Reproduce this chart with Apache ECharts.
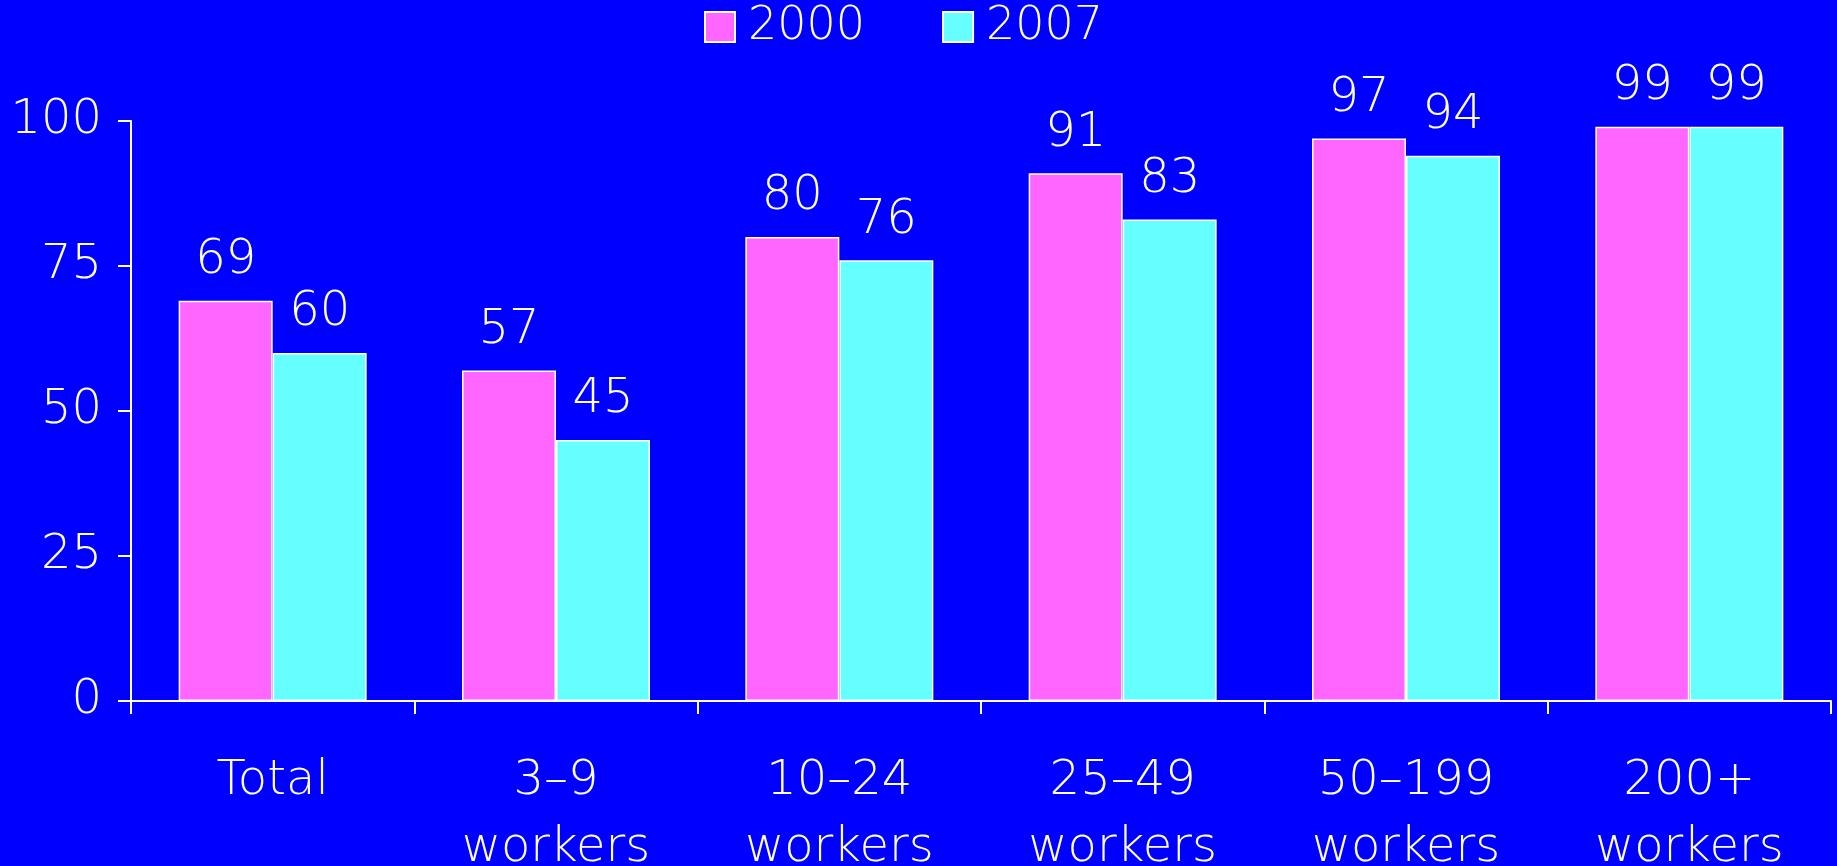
<!DOCTYPE html>
<html>
<head>
<meta charset="utf-8">
<script src="https://cdn.jsdelivr.net/npm/echarts@6/dist/echarts.min.js"></script>
<style>
  html, body { margin: 0; padding: 0; background: #0000ff; }
  #chart { width: 1837px; height: 866px; }
</style>
</head>
<body>
<div id="chart"></div>
<script>
// data
const categories = ["Total", "3\u20139\nworkers", "10\u201324\nworkers", "25\u201349\nworkers", "50\u2013199\nworkers", "200+\nworkers"];
const values2000 = [69, 57, 80, 91, 97, 99];
const values2007 = [60, 45, 76, 83, 94, 99];
const yTicks = [0, 25, 50, 75, 100];

const FONT = "DejaVu Sans";
const FS = 48;
const chart = echarts.init(document.getElementById("chart"));

const labelStyle = {
  show: true,
  position: "top",
  distance: 16,
  color: "#fff",
  fontSize: FS,
  fontFamily: FONT,
  fontWeight: 200,
};

const option = {
  backgroundColor: "#0000ff",
  animation: false,
  legend: {
    data: ["2000", "2007"],
    top: -1,
    left: 699,
    icon: "rect",
    itemWidth: 30,
    itemHeight: 30,
    itemGap: 77,
    itemStyle: { borderColor: "#fff", borderWidth: 2 },
    textStyle: {
      color: "#fff",
      fontSize: 46,
      fontFamily: FONT,
      fontWeight: 200,
      padding: [0, 0, 0, 8],
    },
    selectedMode: false,
  },
  grid: {
    left: 131,
    right: 6,
    top: 121,
    bottom: 165,
    outerBoundsMode: "none",
    containLabel: false,
  },
  xAxis: {
    type: "category",
    data: categories,
    axisLine: { lineStyle: { color: "#fff", width: 2 } },
    axisTick: { show: true, length: 13, lineStyle: { color: "#fff", width: 2 } },
    axisLabel: {
      color: "#fff",
      fontSize: FS,
      fontFamily: FONT,
      fontWeight: 200,
      margin: 47,
      lineHeight: 67,
      interval: 0,
    },
  },
  yAxis: {
    type: "value",
    min: yTicks[0],
    max: yTicks[yTicks.length - 1],
    interval: 25,
    axisLine: { show: true, lineStyle: { color: "#fff", width: 2 } },
    axisTick: { show: true, length: 13, lineStyle: { color: "#fff", width: 2 } },
    splitLine: { show: false },
    axisLabel: {
      color: "#fff",
      fontSize: FS,
      fontFamily: FONT,
      fontWeight: 200,
      margin: 29,
    },
  },
  series: [
    {
      name: "2000",
      type: "bar",
      data: values2000,
      barWidth: 94,
      barGap: "0%",
      itemStyle: { color: "#ff66ff", borderColor: "#fff", borderWidth: 1.5 },
      label: labelStyle,
    },
    {
      name: "2007",
      type: "bar",
      data: values2007,
      barWidth: 94,
      itemStyle: { color: "#66ffff", borderColor: "#fff", borderWidth: 1.5 },
      label: labelStyle,
    },
  ],
};
chart.setOption(option);
</script>
</body>
</html>
